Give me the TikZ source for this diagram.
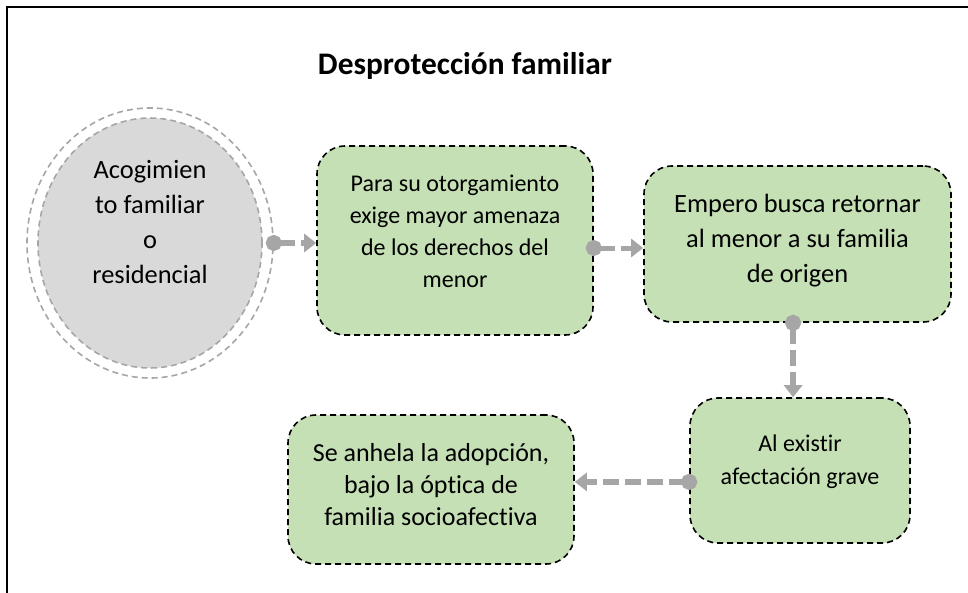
\documentclass[tikz,border=0pt]{standalone}
\usepackage{fontspec}
\setmainfont{Carlito}[RawFeature={-liga;-clig}]
\usetikzlibrary{shapes.geometric,arrows.meta}

\definecolor{boxgreen}{HTML}{C5E0B4}
\definecolor{ringgray}{HTML}{A6A6A6}
\definecolor{discgray}{HTML}{D9D9D9}

\begin{document}
\begin{tikzpicture}[x=0.5pt,y=-0.5pt]
      \tikzset{
        box/.style={rounded corners=14pt,draw=black,line width=0.8pt,
          dash pattern=on 3pt off 2pt,fill=boxgreen,align=center,inner sep=0pt},
        disc/.style={ellipse,draw=ringgray,line width=0.8pt,
          dash pattern=on 3pt off 2pt,inner sep=0pt,align=center},
        link/.style={draw=ringgray,line width=2.5pt,dash pattern=on 8pt off 3pt,
          {Circle[length=8pt]}-{Triangle[length=6pt,width=9pt]},shorten <=-4pt}
      }
      \useasboundingbox (0,0) rectangle (968,593);
      \draw[line width=1.3pt] (968,7) -- (7,7) -- (7,593);

      \node[font=\fontsize{15.7}{19}\selectfont\bfseries] (title) at (465,66) {Desprotección familiar};

      \node[disc,minimum width=123pt,minimum height=135pt] (ring) at (150,243) {};
      \node[disc,fill=discgray,minimum width=112pt,minimum height=125pt,
        font=\fontsize{13.2}{17.5}\selectfont,text depth=21pt] (acog) at (150,243)
        {Acogimien\\to familiar\\o\\residencial};

      \node[box,minimum width=138pt,minimum height=94.5pt,
        font=\fontsize{12}{16}\selectfont,text depth=9.5pt] (b1) at (455,240.5)
        {Para su otorgamiento\\exige mayor amenaza\\de los derechos del\\menor};
      \node[box,minimum width=153.5pt,minimum height=78pt,
        font=\fontsize{13.2}{17.5}\selectfont,text depth=6pt] (b2) at (797.5,244)
        {Empero busca retornar\\al menor a su familia\\de origen};
      \node[box,minimum width=110pt,minimum height=72.5pt,
        font=\fontsize{12}{16.5}\selectfont,text depth=11pt] (b3) at (800,470.5)
        {Al existir\\afectación grave};
      \node[box,minimum width=143pt,minimum height=74.5pt,
        font=\fontsize{13}{16}\selectfont,text depth=5.5pt] (b4) at (431,489.5)
        {Se anhela la adopción,\\bajo la óptica de\\familia socioafectiva};

      \draw[link] (ring.east) -- (ring.east -| b1.west);
      \draw[link] ([yshift=-2pt]b2.west -| b1.east) -- ([yshift=-2pt]b2.west);
      \draw[link,line width=3.3pt] ([xshift=-2.2pt]b2.south) -- ([xshift=-2.2pt]b2.south |- b3.north);
      \draw[link,line width=3.3pt] ([yshift=-5.7pt]b3.west) -- ([yshift=-5.7pt]b3.west -| b4.east);
\end{tikzpicture}
\end{document}
